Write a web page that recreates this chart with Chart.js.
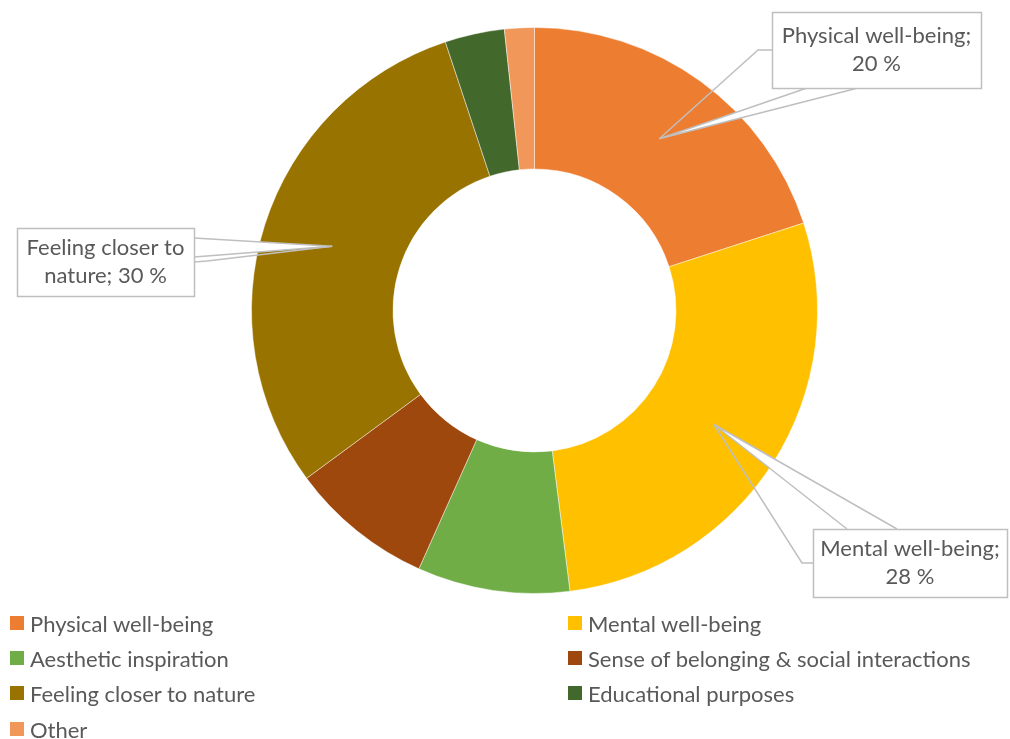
<!DOCTYPE html>
<html>
<head>
<meta charset="utf-8">
<script src="https://cdn.jsdelivr.net/npm/chart.js@4/dist/chart.umd.min.js"></script>
<style>
    html, body { margin: 0; padding: 0; background: #fff; }
    #wrap { position: relative; width: 1010px; height: 739px; overflow: hidden; }
    #chart-box { position: absolute; left: 0; top: 0; width: 1010px; height: 610px; }
    #legend { position: absolute; left: 0; top: 0; width: 1010px; height: 739px; pointer-events: none; }
    .legend-item {
        position: absolute;
        display: flex;
        align-items: center;
        font-family: Lato, "Open Sans", sans-serif;
        font-size: 22px;
        color: #595959;
        white-space: nowrap;
        height: 24px;
    }
    .legend-swatch { width: 14px; height: 14px; margin-right: 6px; flex: none; }
</style>
</head>
<body>
<div id="wrap">
    <div id="chart-box"><canvas id="donut"></canvas></div>
    <div id="legend"></div>
</div>
<script>
// Reasons for visiting, share of answers (%)
const categories = [
    'Physical well-being',
    'Mental well-being',
    'Aesthetic inspiration',
    'Sense of belonging & social interactions',
    'Feeling closer to nature',
    'Educational purposes',
    'Other'
];
const shares = [20, 28, 8.7, 8.2, 30, 3.4, 1.7];
const sliceColors = ['#ED7D31', '#FFC000', '#70AD47', '#9E480E', '#997300', '#43682B', '#F1975A'];

// Slices that get a callout with name and value
const calloutSlices = [0, 1, 4];

// Callout boxes: box rect, pointer base on the box edge, leader stub
const calloutLayout = {
    0: { box: [772, 12, 209, 76], base: [[807, 88], [858, 88]], stub: [[772, 50], [758, 50]] },
    1: { box: [813, 529, 194, 68], base: [[847, 529], [897, 529]], stub: [[813, 563], [802, 563]] },
    4: { box: [17, 228, 177, 68], base: [[194, 238], [194, 257]], stub: [[194, 262], [207, 261]] }
};

const textColor = '#595959';
const calloutBorder = '#BFBFBF';
const fontFamily = 'Lato, "Open Sans", sans-serif';

const calloutPlugin = {
    id: 'sliceCallouts',
    afterDatasetsDraw(chart) {
        const ctx = chart.ctx;
        const arcs = chart.getDatasetMeta(0).data;
        ctx.save();
        calloutSlices.forEach(i => {
            const lay = calloutLayout[i];
            const tip = arcs[i].getCenterPoint();
            const [bx, by, bw, bh] = lay.box;

            // leader line
            ctx.strokeStyle = calloutBorder;
            ctx.lineWidth = 1.5;
            ctx.beginPath();
            ctx.moveTo(lay.stub[0][0], lay.stub[0][1]);
            ctx.lineTo(lay.stub[1][0], lay.stub[1][1]);
            ctx.lineTo(tip.x, tip.y);
            ctx.stroke();

            // pointer wedge
            ctx.beginPath();
            ctx.moveTo(lay.base[0][0], lay.base[0][1]);
            ctx.lineTo(tip.x, tip.y);
            ctx.lineTo(lay.base[1][0], lay.base[1][1]);
            ctx.fillStyle = '#fff';
            ctx.fill();
            ctx.stroke();

            // box
            ctx.fillStyle = '#fff';
            ctx.fillRect(bx, by, bw, bh);
            ctx.strokeRect(bx + 0.5, by + 0.5, bw, bh);

            // text
            ctx.fillStyle = textColor;
            ctx.font = '22px ' + fontFamily;
            ctx.textAlign = 'center';
            ctx.textBaseline = 'middle';
            const cx = bx + bw / 2;
            const cy = by + bh / 2;
            if (i === 4) {
                ctx.fillText('Feeling closer to', cx, cy - 14);
                ctx.fillText('nature; ' + shares[i] + ' %', cx, cy + 14);
            } else {
                ctx.fillText(categories[i] + ';', cx, cy - 14);
                ctx.fillText(shares[i] + ' %', cx, cy + 14);
            }
        });
        ctx.restore();
    }
};

function buildLegend() {
    const legend = document.getElementById('legend');
    const colX = [10, 568];
    const rowY = [611, 646, 681, 717];
    categories.forEach((name, i) => {
        const item = document.createElement('div');
        item.className = 'legend-item';
        item.style.left = colX[i % 2] + 'px';
        item.style.top = rowY[Math.floor(i / 2)] + 'px';
        item.innerHTML = `<span class="legend-swatch" style="background:${sliceColors[i]}"></span><span>${name}</span>`;
        legend.appendChild(item);
    });
}

function drawChart() {
    new Chart(document.getElementById('donut'), {
        type: 'doughnut',
        data: {
            labels: categories,
            datasets: [{
                data: shares,
                backgroundColor: sliceColors,
                borderColor: 'rgba(255, 255, 255, 0.45)',
                borderWidth: 1
            }]
        },
        options: {
            responsive: true,
            maintainAspectRatio: false,
            animation: false,
            cutout: '50%',
            layout: { padding: { top: 27, bottom: 16, left: 59, right: 0 } },
            plugins: {
                legend: { display: false },
                tooltip: { enabled: false }
            }
        },
        plugins: [calloutPlugin]
    });
}

buildLegend();
document.fonts.load('22px Lato').then(drawChart, drawChart);
</script>
</body>
</html>
